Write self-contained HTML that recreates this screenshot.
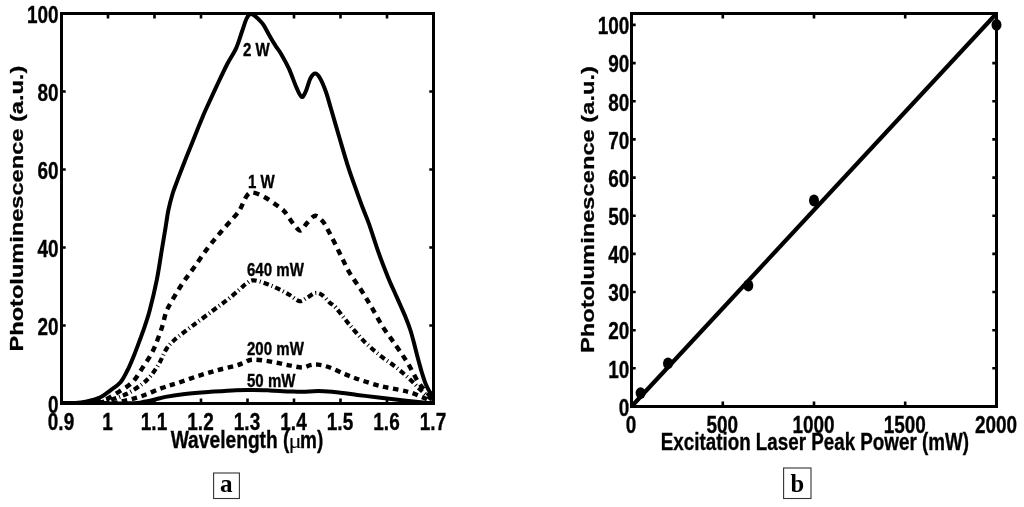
<!DOCTYPE html>
<html><head><meta charset="utf-8"><title>Photoluminescence</title>
<style>html,body{margin:0;padding:0;background:#fff}svg{display:block}text{font-family:"Liberation Sans",sans-serif;font-weight:bold;fill:#000;stroke:#000;stroke-width:.35px}.s{font-family:"Liberation Serif",serif;stroke:none}.mu{font-family:"Liberation Serif",serif;font-weight:normal;stroke:none}</style></head><body>
<svg width="1024" height="507" viewBox="0 0 1024 507">
<rect width="1024" height="507" fill="#fff"/>
<g fill="none" stroke="#000" stroke-width="4" stroke-linejoin="round">
<clipPath id="cl"><rect x="61.5" y="12.5" width="372.0" height="392.5"/></clipPath>
<g clip-path="url(#cl)">
<path d="M61.5 403.0C63.8 403.0 71.0 403.2 75.0 403.0C79.0 402.8 81.4 402.7 85.4 401.8C89.4 400.9 94.9 399.8 99.1 397.9C103.3 395.9 107.2 392.7 110.8 390.1C114.4 387.5 117.7 385.6 120.5 382.3C123.3 379.0 125.1 375.1 127.4 370.5C129.7 365.9 132.1 360.1 134.2 354.9C136.3 349.7 138.3 344.2 140.1 339.3C141.9 334.4 143.4 330.5 145.0 325.6C146.6 320.7 147.8 317.7 149.8 310.0C151.8 302.3 154.9 289.4 156.9 279.4C158.9 269.4 160.3 258.8 161.8 250.0C163.3 241.2 164.6 233.1 165.7 226.6C166.8 220.1 167.1 216.4 168.2 211.0C169.3 205.6 171.0 199.1 172.5 194.0C174.0 188.9 175.5 185.6 177.4 180.4C179.3 175.2 181.8 169.0 184.2 162.8C186.6 156.6 189.4 149.8 192.0 143.3C194.6 136.8 197.5 129.2 199.8 123.7C202.1 118.2 202.8 116.2 205.6 110.0C208.4 103.8 213.0 93.9 216.6 86.2C220.2 78.5 224.1 70.0 227.4 63.7C230.7 57.4 233.8 53.5 236.2 48.1C238.6 42.7 240.3 36.4 242.0 31.5C243.7 26.6 245.2 21.6 246.6 18.5C248.0 15.4 249.7 14.1 250.3 13.2 M250.3 13.2C251.0 13.6 253.1 14.6 254.5 15.6C255.9 16.6 257.0 17.7 258.5 19.2C260.0 20.7 261.7 22.1 263.5 24.8C265.3 27.5 267.4 32.0 269.4 35.4C271.3 38.8 273.2 42.1 275.2 45.2C277.1 48.3 278.8 50.0 281.1 53.9C283.4 57.8 286.3 62.9 288.9 68.6C291.5 74.3 294.6 83.4 296.7 88.1C298.8 92.8 300.1 96.2 301.6 96.9C303.1 97.6 304.0 95.1 305.5 92.0C307.0 88.9 308.8 81.5 310.4 78.4C312.0 75.3 313.7 73.5 315.3 73.5C316.9 73.5 318.4 75.3 320.2 78.4C322.0 81.5 324.2 86.9 326.0 92.0C327.8 97.1 328.7 101.1 331.0 108.8C333.3 116.5 336.7 128.5 339.6 138.3C342.5 148.1 345.8 159.5 348.4 167.6C351.0 175.7 352.8 180.4 355.2 187.1C357.6 193.8 360.4 201.7 362.7 207.8C365.0 213.9 366.2 216.1 368.9 223.6C371.6 231.1 375.4 243.8 378.7 252.9C381.9 262.0 385.8 271.8 388.4 278.3C391.0 284.8 392.5 287.5 394.5 292.0C396.5 296.5 398.7 301.3 400.5 305.5C402.3 309.7 403.8 312.8 405.5 317.0C407.2 321.2 409.0 325.8 410.5 330.5C412.0 335.2 413.2 340.0 414.5 345.0C415.8 350.0 417.2 355.8 418.5 360.5C419.8 365.2 420.8 369.2 422.0 373.0C423.2 376.8 424.2 380.4 425.5 383.5C426.8 386.6 428.2 389.4 429.5 391.5C430.8 393.6 432.8 395.2 433.4 396.0"/>
<path d="M61.5 403.5C66.2 403.4 82.8 403.6 90.0 403.0C97.2 402.4 100.1 401.6 104.9 399.8C109.7 398.0 114.0 394.9 118.6 392.0C123.2 389.1 128.4 386.2 132.3 382.3C136.2 378.4 138.8 373.5 142.0 368.6C145.2 363.7 149.2 357.9 151.8 353.0C154.4 348.1 155.9 343.9 157.7 339.3C159.5 334.7 161.2 329.8 162.5 325.6C163.8 321.4 164.5 317.0 165.5 313.9C166.5 310.8 166.0 311.5 168.6 306.7C171.2 301.9 177.1 291.7 181.3 285.2C185.5 278.7 189.6 273.8 194.0 267.6C198.4 261.4 203.1 254.1 207.7 248.1C212.2 242.1 216.5 237.1 221.3 231.5C226.1 225.9 233.2 218.3 236.5 214.3C239.8 210.3 239.2 210.8 240.9 207.7C242.6 204.6 244.8 198.5 246.7 196.0C248.6 193.5 249.7 192.3 252.6 192.5C255.5 192.7 260.4 194.9 264.3 197.0C268.2 199.1 272.8 202.5 276.0 204.8C279.2 207.1 282.0 209.1 283.8 210.8C285.6 212.5 285.1 212.3 286.9 214.8C288.7 217.3 292.4 223.0 294.7 225.6C297.0 228.2 298.4 231.0 300.5 230.5C302.6 230.0 304.9 225.0 307.4 222.6C309.8 220.2 312.6 216.0 315.2 215.8C317.8 215.7 320.6 218.8 323.0 221.7C325.4 224.6 327.0 228.2 329.8 233.4C332.6 238.6 336.3 246.4 339.6 252.9C342.9 259.4 345.8 266.3 349.4 272.5C353.0 278.7 357.5 284.4 361.1 290.0C364.7 295.6 367.3 299.9 370.9 306.0C374.5 312.1 378.4 319.8 382.6 326.5C386.8 333.2 392.1 339.8 396.3 346.0C400.5 352.2 404.4 357.7 408.0 363.6C411.6 369.5 414.8 376.6 417.7 381.2C420.6 385.8 423.1 388.2 425.5 391.0C427.9 393.8 431.2 396.7 432.4 397.8" stroke-dasharray="6 5.3" stroke-width="4.4"/>
<path d="M61.5 403.5C67.1 403.4 86.8 403.6 95.0 403.0C103.2 402.4 105.6 401.3 110.8 399.8C116.0 398.3 121.2 396.6 126.4 394.0C131.6 391.4 137.8 387.4 142.0 384.2C146.2 380.9 148.9 378.1 151.8 374.5C154.7 370.9 157.2 366.9 159.6 362.7C162.0 358.4 163.8 352.9 166.4 349.0C169.0 345.1 170.8 343.2 175.2 339.3C179.6 335.4 186.6 330.3 192.8 325.6C199.0 320.9 206.6 315.3 212.3 311.0C218.0 306.7 222.8 303.4 227.2 299.9C231.6 296.4 235.7 292.9 238.9 290.1C242.2 287.3 244.2 284.9 246.7 283.3C249.1 281.7 250.3 280.2 253.6 280.3C256.9 280.4 262.2 282.3 266.3 283.7C270.4 285.1 274.1 286.8 278.0 288.7C281.9 290.6 286.1 292.9 289.7 295.0C293.3 297.1 296.6 300.8 299.5 301.2C302.4 301.6 304.7 298.9 307.3 297.5C309.9 296.1 312.8 293.4 315.2 293.0C317.6 292.6 319.6 293.3 322.0 294.9C324.4 296.5 327.5 300.6 329.8 302.7C332.1 304.8 332.4 303.9 335.7 307.5C339.0 311.1 344.5 318.8 349.4 324.6C354.3 330.4 359.8 337.0 365.0 342.2C370.2 347.4 375.4 351.6 380.6 355.8C385.8 360.0 391.4 363.6 396.3 367.5C401.2 371.4 406.0 375.7 409.9 379.3C413.8 382.9 416.6 386.1 419.7 389.0C422.8 391.9 426.2 394.8 428.5 396.8C430.8 398.8 432.7 400.3 433.5 401.0" stroke-dasharray="5.5 3 1 3" stroke-width="4.2"/>
<path d="M61.5 403.5C69.6 403.4 99.5 403.4 110.0 403.0C120.5 402.6 119.2 402.0 124.5 400.8C129.8 399.6 135.8 398.1 142.0 396.0C148.2 393.9 155.7 390.2 161.6 388.1C167.5 386.0 171.3 385.1 177.2 383.2C183.0 381.2 190.2 378.5 196.7 376.4C203.2 374.3 209.7 372.3 216.2 370.5C222.7 368.7 231.2 367.0 235.8 365.7C240.4 364.4 241.2 363.7 243.9 362.7C246.6 361.7 248.1 360.0 251.7 359.7C255.3 359.4 260.8 360.1 265.4 360.7C269.9 361.3 274.8 362.4 279.0 363.2C283.2 364.1 286.9 364.9 290.8 365.6C294.7 366.3 299.2 367.6 302.5 367.5C305.8 367.4 307.7 365.7 310.3 365.2C312.9 364.7 314.9 364.2 318.1 364.6C321.4 365.0 325.2 365.9 329.8 367.5C334.4 369.1 340.3 372.3 345.5 374.4C350.7 376.5 355.2 378.2 361.1 380.2C367.0 382.1 374.1 384.5 380.6 386.1C387.1 387.7 395.0 388.9 400.2 390.0C405.4 391.1 408.0 391.6 411.9 392.9C415.8 394.2 420.0 396.3 423.6 397.8C427.2 399.3 431.9 401.3 433.5 402.0" stroke-dasharray="5.5 4.6" stroke-width="4.4"/>
<path d="M61.5 403.5C72.9 403.5 116.2 403.6 130.0 403.3C143.8 403.0 139.8 402.4 144.0 401.8C148.2 401.2 151.4 400.3 155.0 399.5C158.6 398.7 160.5 397.8 165.5 396.9C170.5 396.0 177.8 394.8 185.0 394.0C192.2 393.2 199.9 392.6 208.4 392.0C216.9 391.4 228.6 390.5 235.8 390.2C243.0 389.9 246.1 390.0 251.7 390.0C257.3 390.0 263.1 390.2 269.3 390.4C275.5 390.6 283.3 391.2 288.8 391.4C294.3 391.6 297.6 391.9 302.5 391.8C307.4 391.7 312.9 391.0 318.1 391.0C323.3 391.0 327.2 391.4 333.8 392.0C340.3 392.6 349.4 393.9 357.2 394.9C365.0 395.9 372.5 396.8 380.6 397.8C388.7 398.8 398.5 399.9 406.0 400.8C413.5 401.6 420.9 402.3 425.5 402.7C430.1 403.1 432.2 402.9 433.5 403.0"/>
</g></g>
<rect x="61.5" y="13.5" width="372.0" height="390.0" fill="none" stroke="#000" stroke-width="3"/>
<path d="M108.0 403.5v-5M108.0 13.5v5M154.5 403.5v-5M154.5 13.5v5M201.0 403.5v-5M201.0 13.5v5M247.5 403.5v-5M247.5 13.5v5M294.0 403.5v-5M294.0 13.5v5M340.5 403.5v-5M340.5 13.5v5M387.0 403.5v-5M387.0 13.5v5M61.5 325.5h4.2M433.5 325.5h-4.2M61.5 247.5h4.2M433.5 247.5h-4.2M61.5 169.5h4.2M433.5 169.5h-4.2M61.5 91.5h4.2M433.5 91.5h-4.2" stroke="#000" stroke-width="2.6" fill="none"/>
<text transform="translate(61.0 430.4) scale(0.800 1)" font-size="23.7" text-anchor="middle">0.9</text>
<text transform="translate(107.5 430.4) scale(0.800 1)" font-size="23.7" text-anchor="middle">1</text>
<text transform="translate(154.0 430.4) scale(0.800 1)" font-size="23.7" text-anchor="middle">1.1</text>
<text transform="translate(200.5 430.4) scale(0.800 1)" font-size="23.7" text-anchor="middle">1.2</text>
<text transform="translate(247.0 430.4) scale(0.800 1)" font-size="23.7" text-anchor="middle">1.3</text>
<text transform="translate(293.5 430.4) scale(0.800 1)" font-size="23.7" text-anchor="middle">1.4</text>
<text transform="translate(340.0 430.4) scale(0.800 1)" font-size="23.7" text-anchor="middle">1.5</text>
<text transform="translate(386.5 430.4) scale(0.800 1)" font-size="23.7" text-anchor="middle">1.6</text>
<text transform="translate(433.0 430.4) scale(0.800 1)" font-size="23.7" text-anchor="middle">1.7</text>
<text transform="translate(58.6 412.5) scale(0.800 1)" font-size="23.7" text-anchor="end">0</text>
<text transform="translate(58.6 334.5) scale(0.800 1)" font-size="23.7" text-anchor="end">20</text>
<text transform="translate(58.6 256.5) scale(0.800 1)" font-size="23.7" text-anchor="end">40</text>
<text transform="translate(58.6 178.5) scale(0.800 1)" font-size="23.7" text-anchor="end">60</text>
<text transform="translate(58.6 100.5) scale(0.800 1)" font-size="23.7" text-anchor="end">80</text>
<text transform="translate(58.6 22.5) scale(0.800 1)" font-size="23.7" text-anchor="end">100</text>
<text id="wl" transform="translate(170.7 448.0) scale(0.797 1)" font-size="24.1">Wavelength (</text>
<text class="mu" transform="translate(295.0 448.0) scale(1.15 1)" font-size="21.5" text-anchor="middle">μ</text>
<text transform="translate(323.3 448.0) scale(0.788 1)" font-size="24.1" text-anchor="end">m)</text>
<text transform="translate(23.3 208.6) scale(0.780 1) rotate(-90)" font-size="23.6" text-anchor="middle">Photoluminescence (a.u.)</text>
<text transform="translate(243.0 55.9) scale(0.860 1)" font-size="17.5" text-anchor="start">2 W</text>
<text transform="translate(248.0 188.1) scale(0.860 1)" font-size="17.5" text-anchor="start">1 W</text>
<text transform="translate(247.0 276.4) scale(0.860 1)" font-size="17.5" text-anchor="start">640 mW</text>
<text transform="translate(247.0 354.9) scale(0.860 1)" font-size="17.5" text-anchor="start">200 mW</text>
<text transform="translate(247.0 386.8) scale(0.860 1)" font-size="17.5" text-anchor="start">50 mW</text>
<rect x="213.6" y="473" width="25.8" height="25.5" fill="#fff" stroke="#333" stroke-width="1.1"/>
<text class="s" x="226.3" y="491.8" font-size="25.2" text-anchor="middle">a</text>
<path d="M631.5 406.5L996.5 13.5" stroke="#000" stroke-width="4.2" fill="none"/>
<ellipse cx="640.6" cy="393.1" rx="5" ry="5.9" fill="#000"/>
<ellipse cx="668.0" cy="363.4" rx="5" ry="5.9" fill="#000"/>
<ellipse cx="748.3" cy="285.5" rx="5" ry="5.9" fill="#000"/>
<ellipse cx="814.0" cy="200.5" rx="5" ry="5.9" fill="#000"/>
<ellipse cx="996.5" cy="24.9" rx="5" ry="5.9" fill="#000"/>
<rect x="631.5" y="13.5" width="365.0" height="393.0" fill="none" stroke="#000" stroke-width="3"/>
<path d="M722.8 406.5v-5M722.8 13.5v5M814.0 406.5v-5M814.0 13.5v5M905.2 406.5v-5M905.2 13.5v5M631.5 368.3h4.2M996.5 368.3h-4.2M631.5 330.2h4.2M996.5 330.2h-4.2M631.5 292.0h4.2M996.5 292.0h-4.2M631.5 253.9h4.2M996.5 253.9h-4.2M631.5 215.7h4.2M996.5 215.7h-4.2M631.5 177.6h4.2M996.5 177.6h-4.2M631.5 139.4h4.2M996.5 139.4h-4.2M631.5 101.3h4.2M996.5 101.3h-4.2M631.5 63.1h4.2M996.5 63.1h-4.2M631.5 24.9h4.2M996.5 24.9h-4.2" stroke="#000" stroke-width="2.6" fill="none"/>
<text transform="translate(631.0 432.6) scale(0.800 1)" font-size="23.7" text-anchor="middle">0</text>
<text transform="translate(722.2 432.6) scale(0.800 1)" font-size="23.7" text-anchor="middle">500</text>
<text transform="translate(813.5 432.6) scale(0.800 1)" font-size="23.7" text-anchor="middle">1000</text>
<text transform="translate(904.8 432.6) scale(0.800 1)" font-size="23.7" text-anchor="middle">1500</text>
<text transform="translate(996.0 432.6) scale(0.800 1)" font-size="23.7" text-anchor="middle">2000</text>
<text transform="translate(629.3 415.7) scale(0.800 1)" font-size="23.7" text-anchor="end">0</text>
<text transform="translate(629.3 377.5) scale(0.800 1)" font-size="23.7" text-anchor="end">10</text>
<text transform="translate(629.3 339.4) scale(0.800 1)" font-size="23.7" text-anchor="end">20</text>
<text transform="translate(629.3 301.2) scale(0.800 1)" font-size="23.7" text-anchor="end">30</text>
<text transform="translate(629.3 263.1) scale(0.800 1)" font-size="23.7" text-anchor="end">40</text>
<text transform="translate(629.3 224.9) scale(0.800 1)" font-size="23.7" text-anchor="end">50</text>
<text transform="translate(629.3 186.8) scale(0.800 1)" font-size="23.7" text-anchor="end">60</text>
<text transform="translate(629.3 148.6) scale(0.800 1)" font-size="23.7" text-anchor="end">70</text>
<text transform="translate(629.3 110.5) scale(0.800 1)" font-size="23.7" text-anchor="end">80</text>
<text transform="translate(629.3 72.3) scale(0.800 1)" font-size="23.7" text-anchor="end">90</text>
<text transform="translate(629.3 34.1) scale(0.800 1)" font-size="23.7" text-anchor="end">100</text>
<text id="ex" transform="translate(660.8 450.1) scale(0.78 1)" font-size="24.1">Excitation Laser Peak Power (mW)</text>
<text transform="translate(594.0 209.6) scale(0.780 1) rotate(-90)" font-size="23.7" text-anchor="middle">Photoluminescence (a.u.)</text>
<rect x="783.6" y="468" width="27.4" height="30.5" fill="#fff" stroke="#333" stroke-width="1.1"/>
<text class="s" x="797.4" y="491.9" font-size="24.6" text-anchor="middle">b</text>
</svg></body></html>
